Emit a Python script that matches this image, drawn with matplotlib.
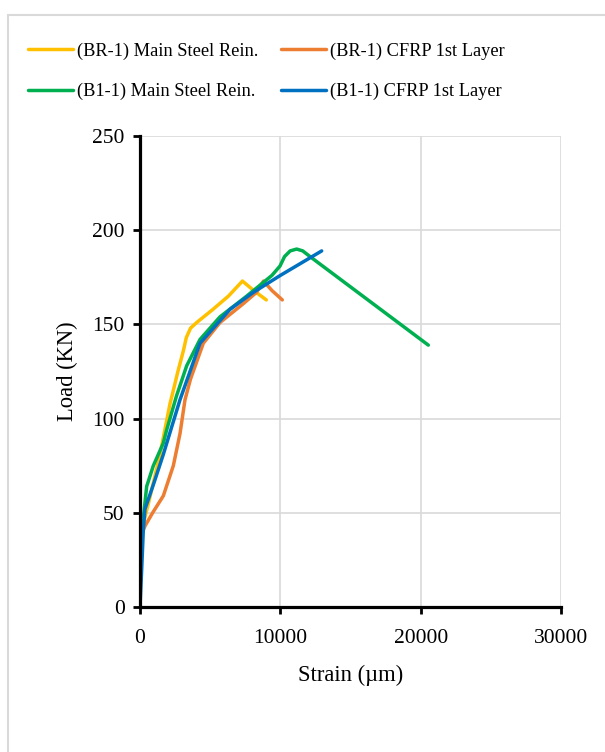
import matplotlib.pyplot as plt
from matplotlib.patches import Rectangle

plt.rcParams['font.family'] = ['Liberation Serif', 'DejaVu Serif']

# Strain (micro-strain) vs load (kN) readings
br1_steel_strain = [0, 20, 60, 600, 1400, 2140, 2375, 2700, 3090, 3300, 3600, 4040, 5200, 6300, 7300, 8100, 9000]
br1_steel_load = [0, 30, 39, 55, 80, 108, 115, 125, 136, 143, 148, 151, 158, 165, 173, 168, 163]

br1_cfrp_strain = [0, 40, 356, 900, 1662, 2375, 2850, 3207, 3600, 4511, 5700, 7360, 8300, 8800, 9400, 10140]
br1_cfrp_load = [0, 37, 43, 50, 59, 75, 92, 110, 121, 140, 151, 161, 167, 173, 168, 163]

b11_steel_strain = [0, 40, 119, 475, 950, 1662, 1900, 2600, 3325, 4276, 5700, 7600, 9400, 9978, 10300, 10700, 11163, 11600, 12114, 20545]
b11_steel_load = [0, 30, 39, 64, 75, 87, 94, 112, 128, 142, 154, 165, 176, 181, 186, 189, 190, 189, 186, 139]

b11_cfrp_strain = [0, 120, 237, 356, 1000, 1662, 2850, 4276, 5700, 6413, 8075, 10000, 12946]
b11_cfrp_load = [0, 20, 41, 52, 66, 81, 110, 140, 152, 158, 167, 176, 189]

series = [
    ('(BR-1) Main Steel Rein.', br1_steel_strain, br1_steel_load, '#FFC000'),
    ('(BR-1) CFRP 1st Layer', br1_cfrp_strain, br1_cfrp_load, '#ED7D31'),
    ('(B1-1) Main Steel Rein.', b11_steel_strain, b11_steel_load, '#00B050'),
    ('(B1-1) CFRP 1st Layer', b11_cfrp_strain, b11_cfrp_load, '#0070C0'),
]

fig = plt.figure(figsize=(6.05, 7.52), dpi=100)
ax = fig.add_axes([140/605, 1 - 607/752, 421/605, 471/752])

lines = []
for name, x, y, c in series:
    ln, = ax.plot(x, y, color=c, lw=2.5, label=name, solid_joinstyle='round', solid_capstyle='round')
    lines.append(ln)

ax.set_xlim(0, 30000)
ax.set_ylim(0, 250)
ax.set_xticks([0, 10000, 20000, 30000])
ax.set_yticks(range(0, 251, 50))
ax.grid(True, color='#d9d9d9', lw=1.2)
ax.set_axisbelow(True)
for s in ['top', 'right']:
    ax.spines[s].set_visible(False)
for s in ['left', 'bottom']:
    ax.spines[s].set_linewidth(2.3)
    ax.spines[s].set_color('black')
ax.tick_params(length=5, width=2, direction='out', labelsize=15.5, colors='black', pad=6)
ax.tick_params(axis='x', pad=11)
ax.set_xlabel('Strain (µm)', fontsize=16.3, labelpad=12)
ax.set_ylabel('Load (KN)', fontsize=16.3, labelpad=10)

# Legend in two rows above the plot (handles ordered for column-major fill)
fig.legend(handles=[lines[0], lines[2], lines[1], lines[3]], ncol=2, loc='upper left',
           bbox_to_anchor=(12/605, 1 - 26/752), frameon=False, fontsize=13.2,
           handlelength=2.45, handletextpad=0.2, columnspacing=1.25, labelspacing=1.25)

# Light outer frame
fig.patches.append(Rectangle((8/605, -0.1), 1.2, 1 - 15/752 + 0.1, transform=fig.transFigure,
                             fill=False, edgecolor='#d9d9d9', lw=1.5))

plt.savefig('out.png', dpi=100)
